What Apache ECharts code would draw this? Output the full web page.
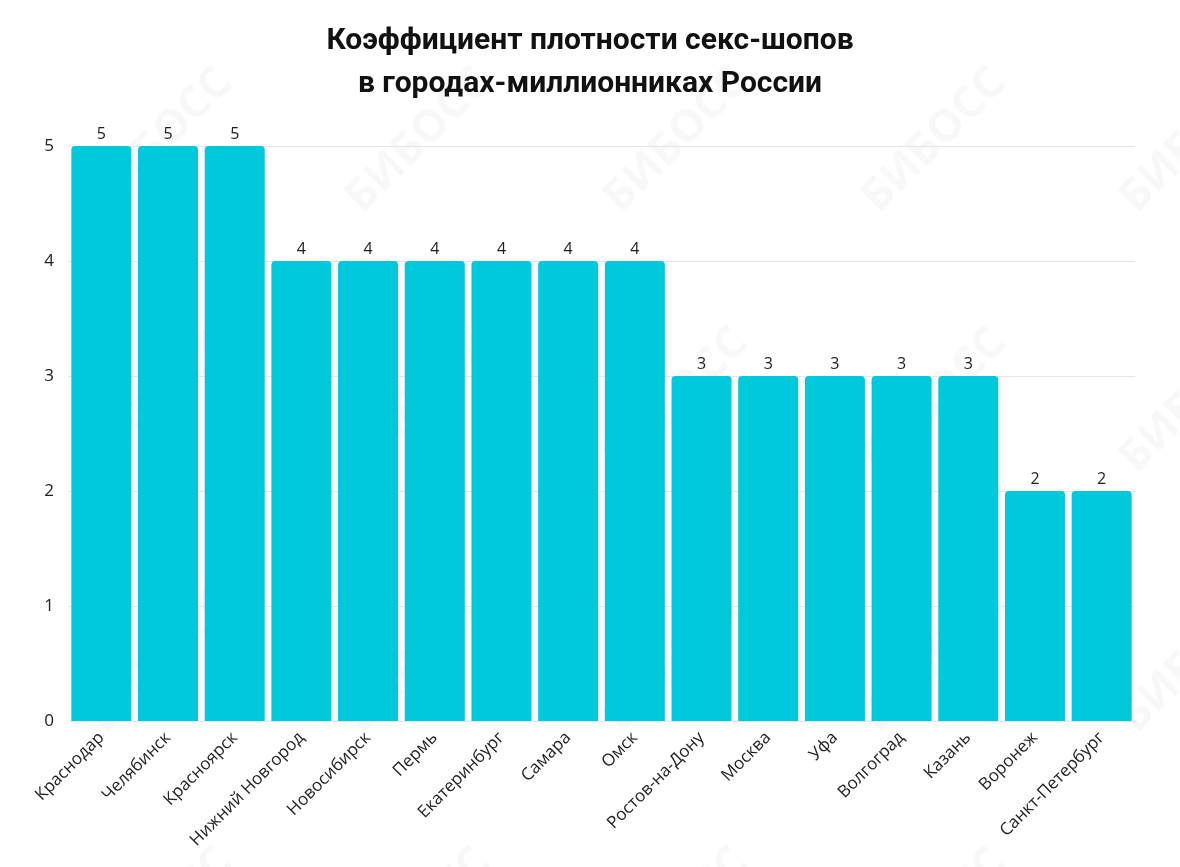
<!DOCTYPE html>
<html><head><meta charset="utf-8">
<script src="https://cdn.jsdelivr.net/npm/echarts@6/dist/echarts.min.js"></script>
<style>html,body{margin:0;padding:0;background:#fff}#c{width:1180px;height:867px}</style>
</head><body><div id="c"></div>
<script>
const titleLines = ['Коэффициент плотности секс-шопов', 'в городах-миллионниках России'];
const categories = ['Краснодар','Челябинск','Красноярск','Нижний Новгород','Новосибирск','Пермь','Екатеринбург','Самара','Омск','Ростов-на-Дону','Москва','Уфа','Волгоград','Казань','Воронеж','Санкт-Петербург'];
const values = [5,5,5,4,4,4,4,4,4,3,3,3,3,3,2,2];
const yTicks = [0,1,2,3,4,5];

const chart = echarts.init(document.getElementById('c'));
const wm = [];
for (let r = 0; r < 4; r++) {
  for (let k = 0; k < 5; k++) {
    wm.push({type:'text', left: 80 + k*258, top: 60 + r*260, rotation: Math.PI/4, silent:true, z:-1,
      style:{text:'БИБОСС', fill:'rgba(200,200,200,0.12)', font:'bold 44px "Open Sans"'}});
  }
}
chart.setOption({
  animation:false,
  backgroundColor:'#fff',
  title:{text: titleLines.join('\n'), left:'center', top:15,
    textStyle:{fontFamily:'Roboto,sans-serif', fontWeight:'bold', fontSize:30, lineHeight:43, color:'#111'}},
  graphic: wm,
  grid:{left:68, right:45, top:146, bottom:146},
  xAxis:{type:'category', data:categories,
    axisLine:{show:false}, axisTick:{show:false},
    axisLabel:{rotate:45, interval:0, fontFamily:'"Open Sans",sans-serif', fontSize:17, color:'#222', margin:14}},
  yAxis:{type:'value', min:0, max:5, interval:1,
    axisLabel:{fontFamily:'"Open Sans",sans-serif', fontSize:17, color:'#222', margin:14,
      formatter: v => yTicks.includes(v) ? String(v) : ''},
    splitLine:{lineStyle:{color:'#e6e6e6'}}, axisLine:{show:false}, axisTick:{show:false}},
  series:[{type:'bar', data:values, barWidth:'90%',
    itemStyle:{color:'#00C9DC', borderRadius:[4,4,0,0]},
    label:{show:true, position:'top', distance:4, fontFamily:'"Open Sans",sans-serif', fontSize:16, color:'#222'}}]
});
</script></body></html>
